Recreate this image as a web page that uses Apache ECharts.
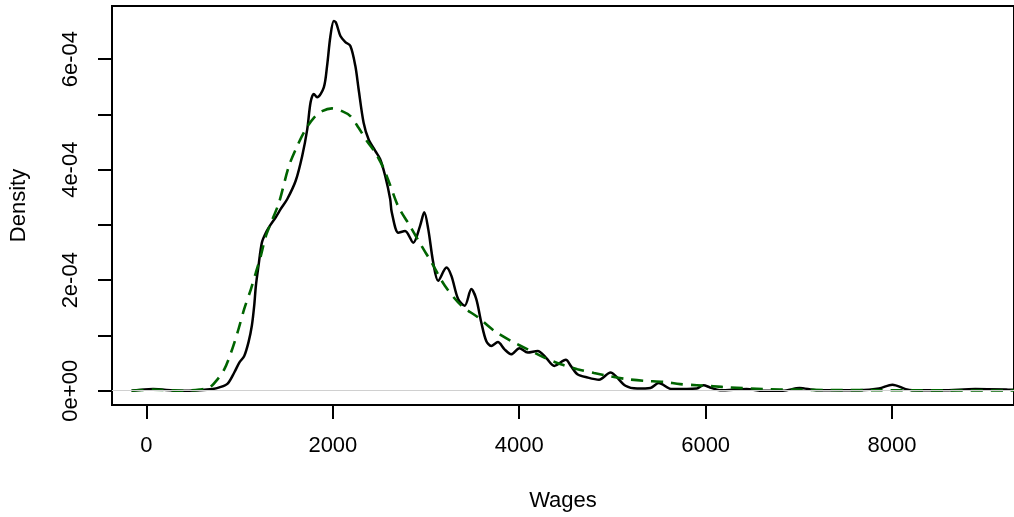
<!DOCTYPE html>
<html>
<head>
<meta charset="utf-8">
<script src="https://cdn.jsdelivr.net/npm/echarts@6/dist/echarts.min.js"></script>
<style>
html,body{margin:0;padding:0;background:#fff;}
#chart{width:1014px;height:517px;}
</style>
</head>
<body>
<div id="chart"></div>
<script>
// Kernel density of wages (black solid): x in wages, y in units of 1e-04
const kdeWages = [-160, 70, 355, 569, 711, 782, 871, 942, 996, 1049, 1095, 1131, 1156, 1174, 1202, 1238, 1281, 1334, 1387, 1441, 1511, 1601, 1671, 1725, 1761, 1796, 1831, 1903, 1938, 1974, 2010, 2034, 2081, 2134, 2188, 2241, 2276, 2330, 2383, 2455, 2508, 2561, 2615, 2632, 2703, 2775, 2863, 2935, 2981, 3024, 3077, 3130, 3219, 3272, 3344, 3415, 3486, 3539, 3592, 3646, 3699, 3771, 3842, 3913, 4002, 4091, 4198, 4286, 4376, 4500, 4553, 4624, 4731, 4856, 4980, 5033, 5140, 5265, 5407, 5496, 5638, 5905, 5977, 6047, 6154, 6439, 6617, 6830, 7008, 7186, 7648, 7861, 8004, 8146, 8218, 8538, 8893, 9245, 9400];
const kdeDensity = [0, 0.03, 0.0, 0.01, 0.03, 0.06, 0.13, 0.33, 0.51, 0.63, 0.88, 1.18, 1.54, 1.90, 2.26, 2.68, 2.86, 3.01, 3.14, 3.29, 3.47, 3.80, 4.25, 4.73, 5.22, 5.37, 5.31, 5.49, 5.88, 6.42, 6.69, 6.66, 6.42, 6.31, 6.24, 5.88, 5.46, 4.85, 4.55, 4.34, 4.19, 3.89, 3.47, 3.23, 2.86, 2.89, 2.68, 2.98, 3.23, 2.92, 2.32, 1.99, 2.23, 2.08, 1.66, 1.54, 1.84, 1.66, 1.24, 0.90, 0.81, 0.88, 0.75, 0.66, 0.77, 0.69, 0.72, 0.60, 0.45, 0.56, 0.45, 0.30, 0.24, 0.20, 0.33, 0.27, 0.09, 0.04, 0.05, 0.14, 0.03, 0.04, 0.10, 0.06, 0.01, 0.03, 0.0, 0.0, 0.05, 0.01, 0.01, 0.04, 0.11, 0.03, 0.01, 0.01, 0.03, 0.02, 0.01];

// Fitted density (green dashed)
const fitWages = [-160, 70, 391, 569, 676, 764, 836, 907, 978, 1049, 1121, 1174, 1227, 1281, 1351, 1423, 1529, 1618, 1708, 1796, 1885, 1991, 2098, 2188, 2276, 2365, 2455, 2543, 2615, 2703, 2828, 2952, 3059, 3202, 3379, 3557, 3735, 3913, 4091, 4269, 4446, 4624, 4803, 4980, 5158, 5336, 5550, 5727, 5905, 6083, 6260, 6617, 6972, 7328, 7861, 8574, 9245, 9400];
const fitDensity = [0, 0.02, 0, 0.02, 0.06, 0.21, 0.39, 0.69, 1.06, 1.48, 1.84, 2.14, 2.44, 2.80, 3.10, 3.41, 4.07, 4.43, 4.73, 4.94, 5.06, 5.11, 5.06, 4.97, 4.76, 4.52, 4.31, 4.03, 3.72, 3.33, 2.98, 2.62, 2.32, 1.90, 1.54, 1.33, 1.08, 0.90, 0.75, 0.60, 0.48, 0.39, 0.32, 0.26, 0.21, 0.18, 0.16, 0.12, 0.10, 0.08, 0.06, 0.03, 0.02, 0.013, 0.01, 0.006, 0.004, 0.004];

const xTicks = [0, 2000, 4000, 6000, 8000];
const yTicks = [0, 1, 2, 3, 4, 5, 6];
const yLabels = [0, 2, 4, 6];

const FONT = "'Liberation Sans', Arial, sans-serif";

function pairs(xs, ys) { return xs.map((x, i) => [x, ys[i]]); }
function yFmt(v) { return v === 0 ? '0e+00' : v + 'e-04'; }

const chart = echarts.init(document.getElementById('chart'), null, {renderer: 'canvas'});
chart.setOption({
  animation: false,
  backgroundColor: '#ffffff',
  grid: {
    left: 112, top: 6, right: -5, bottom: 111,
    show: true, borderColor: '#000', borderWidth: 2, backgroundColor: 'transparent'
  },
  xAxis: {
    type: 'value', min: -370, max: 9309,
    name: 'Wages', nameLocation: 'middle', nameGap: 85,
    nameTextStyle: {fontFamily: FONT, fontSize: 22, color: '#000'},
    axisLine: {show: false, onZero: false},
    splitLine: {show: false},
    axisTick: {show: true, inside: false, length: 14, customValues: xTicks, lineStyle: {color: '#000', width: 2}},
    axisLabel: {show: true, margin: 30, customValues: xTicks, formatter: v => String(v), fontFamily: FONT, fontSize: 22, color: '#000'}
  },
  yAxis: {
    type: 'value', min: -0.258, max: 6.963,
    name: 'Density', nameLocation: 'middle', nameGap: 82, nameRotate: 90,
    nameTextStyle: {fontFamily: FONT, fontSize: 22, color: '#000'},
    axisLine: {show: false, onZero: false},
    splitLine: {show: false},
    axisTick: {show: true, inside: false, length: 14, customValues: yTicks, lineStyle: {color: '#000', width: 2}},
    axisLabel: {show: true, margin: 30, rotate: 90, customValues: yLabels, formatter: yFmt, fontFamily: FONT, fontSize: 22, color: '#000'}
  },
  series: [
    {
      type: 'line', data: pairs(kdeWages, kdeDensity), showSymbol: false, symbol: 'none',
      smooth: 0.3, lineStyle: {color: '#000', width: 2.5}, z: 3,
      markLine: {
        silent: true, symbol: 'none', label: {show: false},
        lineStyle: {color: '#d0d0d0', width: 1, type: 'solid'},
        data: [{yAxis: 0}]
      }
    },
    {
      type: 'line', data: pairs(fitWages, fitDensity), showSymbol: false, symbol: 'none',
      smooth: 0.3, lineStyle: {color: '#006400', width: 2.6, type: [12, 8]}, z: 4
    }
  ]
});
</script>
</body>
</html>
